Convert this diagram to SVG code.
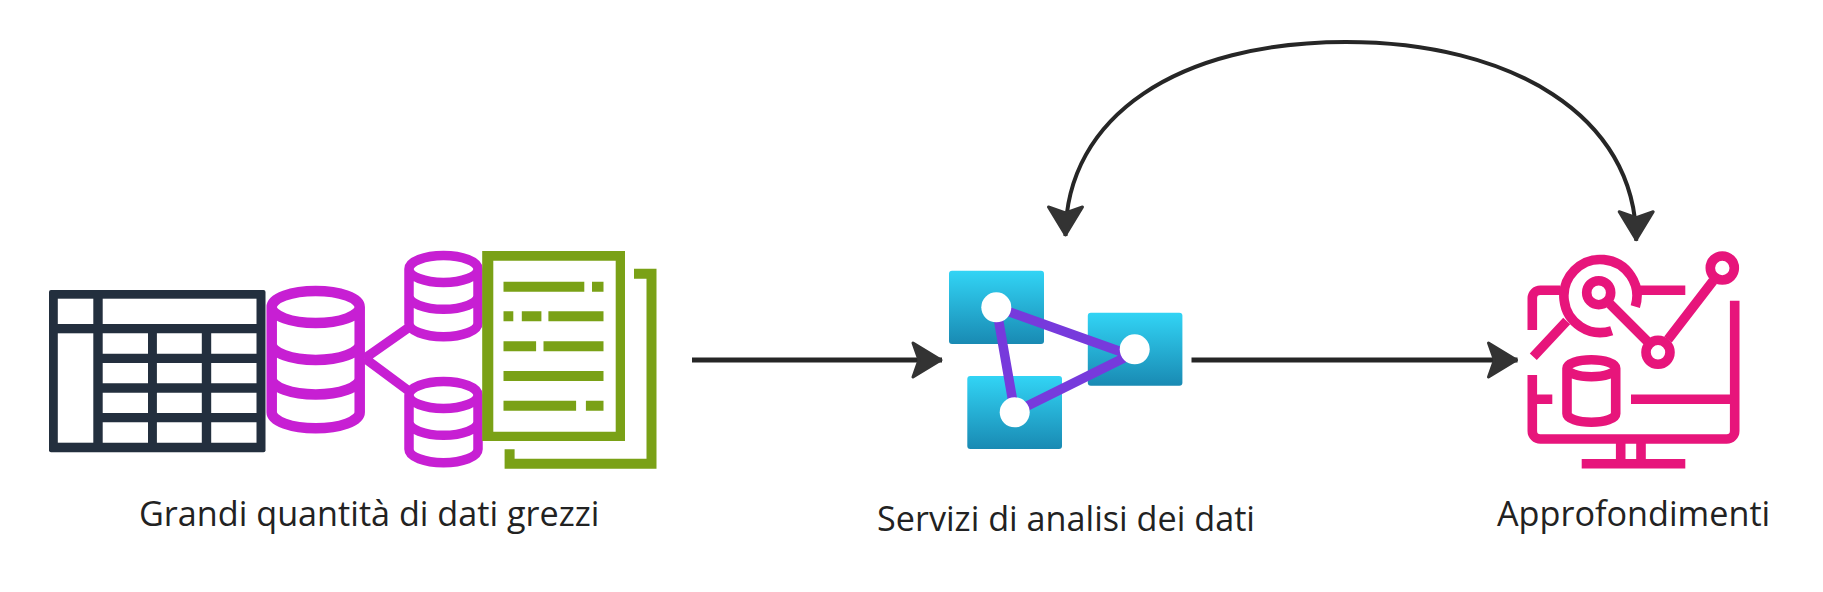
<svg xmlns="http://www.w3.org/2000/svg" width="1823" height="592" viewBox="0 0 1823 592">
<style>
.lbl{font-family:"Open Sans","Noto Sans","Liberation Sans",sans-serif;font-size:34.2px;fill:#222}
.conn{fill:none;stroke:#262626}
.w{fill:#fff}
.dark{fill:#232f3e}
.mag{fill:none;stroke:#c71fd3;stroke-width:9.5}
.magb{stroke-width:10.5}
.grn{fill:#7aa116}
.sq{fill:url(#az)}
.pur{stroke:#773adc;stroke-width:9.5;fill:none}
.pink{fill:none;stroke:#e7157b;stroke-width:9.6}
</style>
<defs>
<linearGradient id="az" x1="0" y1="0" x2="0" y2="1"><stop offset="0" stop-color="#32d4f5"/><stop offset="1" stop-color="#198ab3"/></linearGradient>
<marker id="ah" viewBox="0 0 36 40" markerUnits="userSpaceOnUse" markerWidth="36" markerHeight="40" refX="33" refY="20" orient="auto-start-reverse">
<path d="M4 3 L10 20 L4 37 L32 20 Z" fill="#333" stroke="#333" stroke-width="3" stroke-linejoin="round"/>
</marker>
</defs>
<rect width="1823" height="592" fill="#fff"/>
<g id="connectors">
<path class="conn" stroke-width="5" d="M692 360H942" marker-end="url(#ah)"/>
<path class="conn" stroke-width="5" d="M1191.500 360H1517.500" marker-end="url(#ah)"/>
<path class="conn" stroke-width="4" d="M1065.500 236C1065.500 115 1180 42 1346 42C1510 42 1636.200 115 1636.200 240.700" marker-start="url(#ah)" marker-end="url(#ah)"/>
</g>
<g id="node-table">
<rect class="dark" x="49" y="290" width="216.500" height="162.300" rx="2"/>
<rect class="w" x="57.800" y="298.700" width="35.500" height="25.300"/>
<rect class="w" x="102.700" y="298.700" width="153.800" height="25.300"/>
<rect class="w" x="57.800" y="333.300" width="35.500" height="109.400"/>
<path class="w" d="M102.700 333.300h45.300v20.400h-45.300zM156.900 333.300h44.900v20.400h-44.900zM211.200 333.300h45.300v20.400h-45.300zM102.700 363h45.300v20.300h-45.300zM156.900 363h44.900v20.300h-44.900zM211.200 363h45.300v20.300h-45.300zM102.700 392.700h45.300v20.300h-45.300zM156.900 392.700h44.900v20.300h-44.900zM211.200 392.700h45.300v20.300h-45.300zM102.700 422.300h45.300v20.400h-45.300zM156.900 422.300h44.900v20.400h-44.900zM211.200 422.300h45.300v20.400h-45.300z"/>
</g>
<g id="node-databases">
<path class="mag magb" d="M271.700 307a44 16 0 1 0 88 0a44 16 0 1 0-88 0V412.300a44 16 0 0 0 88 0V307M271.700 344a44 16 0 0 0 88 0M271.700 378.500a44 16 0 0 0 88 0"/>
<path class="mag" d="M364.700 358.300L407.500 328.300M364.700 358.300L407.500 390"/>
<path class="mag" d="M409 269a34.500 13.500 0 1 0 69 0a34.500 13.500 0 1 0-69 0V323.200a34.500 13.500 0 0 0 69 0V269M409 295.800a34.500 13.500 0 0 0 69 0"/>
<path class="mag" d="M409 395a34.500 13.500 0 1 0 69 0a34.500 13.500 0 1 0-69 0V449.200a34.500 13.500 0 0 0 69 0V395M409 421.800a34.500 13.500 0 0 0 69 0"/>
</g>
<g id="node-document">
<path class="grn" fill-rule="evenodd" d="M482.200 251H625V441H482.200ZM493.300 260.700V431.700H615.700V260.700Z"/>
<path fill="none" stroke="#7aa116" stroke-width="10" d="M634 273.800H651.500V463.800H509.600V449.300"/>
<path class="grn" d="M503.500 281.700h80.800v10h-80.800zM592 281.700h11.500v10H592zM503.500 311.300h9.800v10h-9.800zM521.800 311.300h19.600v10h-19.600zM548.400 311.300h55.100v10h-55.100zM503.500 341.300h32.600v10h-32.600zM543.500 341.300h60v10h-60zM503.500 371h100v10h-100zM503.500 400.700h72.600v10h-72.600zM585.900 400.700h17.600v10h-17.600z"/>
</g>
<g id="node-analytics">
<rect class="sq" x="949" y="270.700" width="95" height="73.300" rx="3"/>
<rect class="sq" x="1087.800" y="312.700" width="94.600" height="73" rx="3"/>
<rect class="sq" x="967.300" y="376" width="94.700" height="73" rx="3"/>
<path class="pur" d="M996.300 307.300L1130 355L1014.700 412.300Z" stroke-linejoin="round"/>
<circle class="w" cx="996.300" cy="307.300" r="15"/>
<circle class="w" cx="1134.700" cy="349.300" r="15"/>
<circle class="w" cx="1014.700" cy="412.300" r="15"/>
</g>
<g id="node-insights">
<path class="pink" d="M1532.300 375V431a8 8 0 0 0 8 8H1726.700a8 8 0 0 0 8-8V300.700M1532.300 399.300H1552.300M1631 399.300H1734.700M1620.700 439V463.700M1641 439V463.700M1581.700 463.700H1685.300M1532.300 330V298.300a8 8 0 0 1 8-8H1560M1639.300 290.300H1685.300"/>
<path class="pink" d="M1635.300 306.700A36.500 36.500 0 1 0 1611.700 330.700"/>
<circle class="pink" cx="1598.700" cy="292.700" r="12"/>
<circle class="pink" cx="1658" cy="352.300" r="12"/>
<circle class="pink" cx="1722.300" cy="268" r="12"/>
<path class="pink" d="M1610 304L1647 341M1668 339.500L1713 281M1533.300 356.700L1566.700 321"/>
<path class="pink" d="M1567 368.300a24.300 8.500 0 1 0 48.700 0a24.300 8.500 0 1 0-48.700 0V413.700a24.300 8.500 0 0 0 48.700 0V368.300"/>
</g>
<text id="label-raw" class="lbl" x="139" y="526">Grandi quantità di dati grezzi</text>
<text id="label-services" class="lbl" x="877" y="531">Servizi di analisi dei dati</text>
<text id="label-insights" class="lbl" x="1497" y="526">Approfondimenti</text>
</svg>
